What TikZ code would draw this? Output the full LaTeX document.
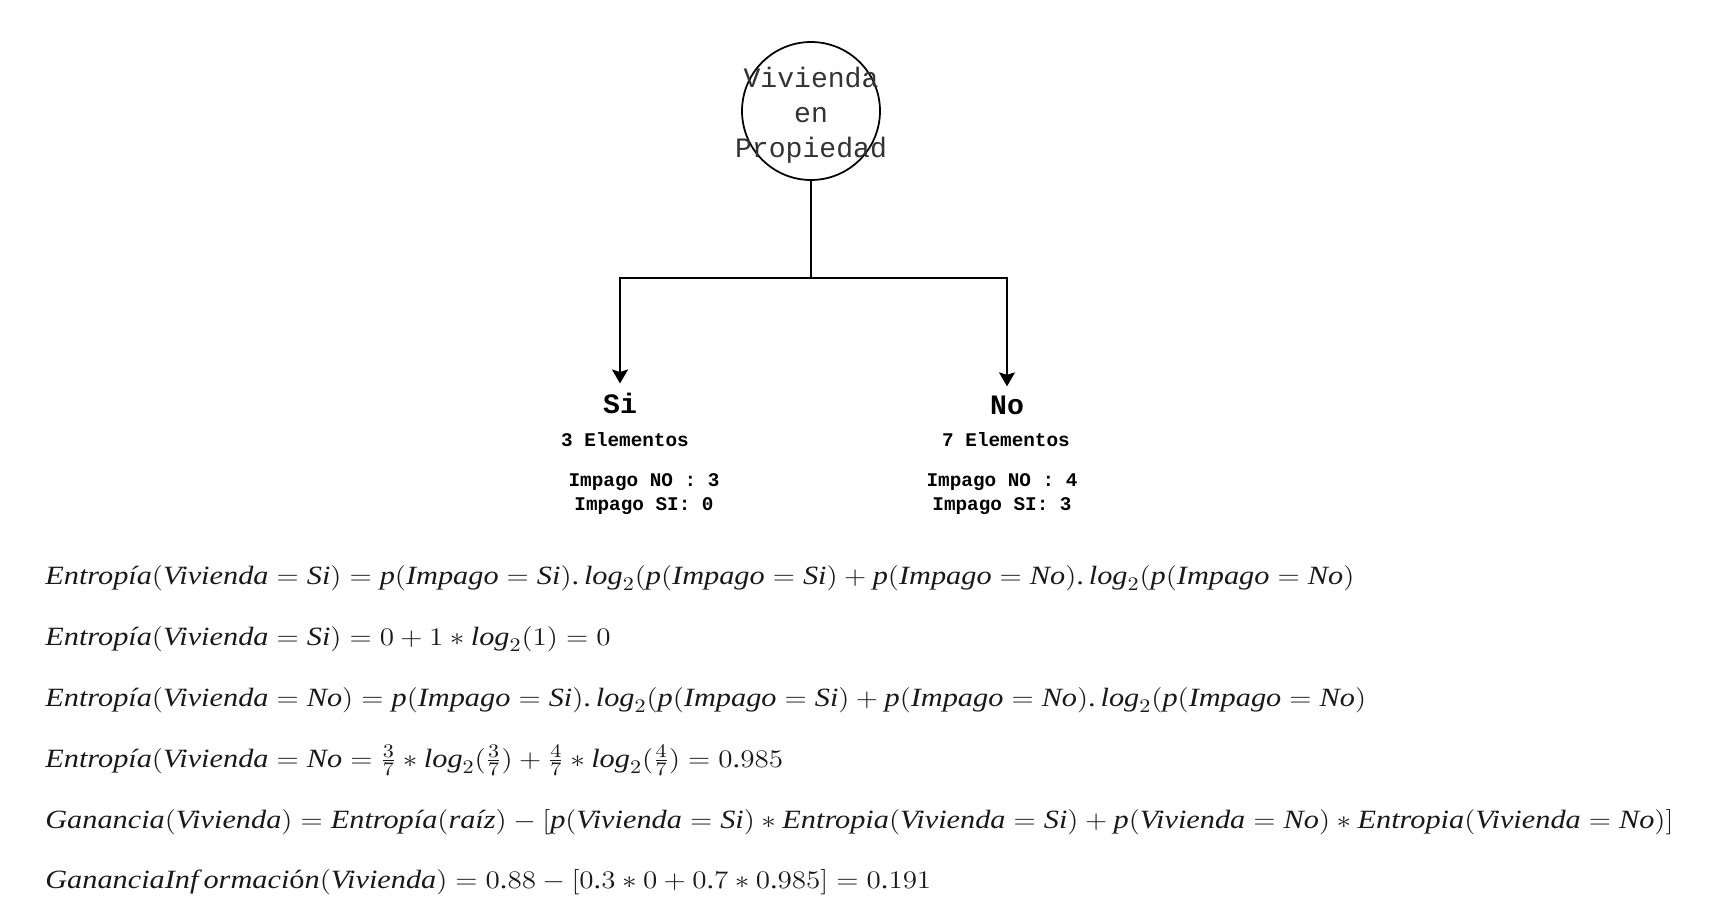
\documentclass[tikz,border=0pt]{standalone}
\usepackage{fontspec}
\usepackage{graphicx}
\setmainfont{Liberation Serif}
\setmonofont{Liberation Mono}
\newfontfamily\eqserif{Liberation Serif}[NFSSFamily=eqserif]
\DeclareSymbolFont{eqdigits}{TU}{eqserif}{m}{n}
\DeclareMathSymbol{0}{\mathalpha}{eqdigits}{"30}
\DeclareMathSymbol{1}{\mathalpha}{eqdigits}{"31}
\DeclareMathSymbol{2}{\mathalpha}{eqdigits}{"32}
\DeclareMathSymbol{3}{\mathalpha}{eqdigits}{"33}
\DeclareMathSymbol{4}{\mathalpha}{eqdigits}{"34}
\DeclareMathSymbol{5}{\mathalpha}{eqdigits}{"35}
\DeclareMathSymbol{6}{\mathalpha}{eqdigits}{"36}
\DeclareMathSymbol{7}{\mathalpha}{eqdigits}{"37}
\DeclareMathSymbol{8}{\mathalpha}{eqdigits}{"38}
\DeclareMathSymbol{9}{\mathalpha}{eqdigits}{"39}
\DeclareMathSymbol{.}{\mathord}{eqdigits}{"2E}
\DeclareMathSymbol{(}{\mathopen}{eqdigits}{"28}
\DeclareMathSymbol{)}{\mathclose}{eqdigits}{"29}
\DeclareMathSymbol{[}{\mathopen}{eqdigits}{"5B}
\DeclareMathSymbol{]}{\mathclose}{eqdigits}{"5D}
\DeclareMathSymbol{+}{\mathbin}{eqdigits}{"2B}
\DeclareMathSymbol{=}{\mathrel}{eqdigits}{"3D}
\usetikzlibrary{arrows.meta}
\newcommand{\ti}[1]{\textit{#1}}
\newcommand{\eqline}[1]{\scalebox{1.15}[1]{$#1$}}

\tikzset{
  attr/.style={circle,draw,line width=1pt,minimum size=2.76cm,inner sep=0pt},
  attrtext/.style={font=\ttfamily\fontsize{16}{20}\selectfont,text=black!80,align=center},
  branch/.style={font=\ttfamily\bfseries\fontsize{16}{18}\selectfont,inner sep=5pt,anchor=base},
  count/.style={font=\ttfamily\bfseries\fontsize{11}{13.6}\selectfont,anchor=base,align=center},
  eq/.style={font=\fontsize{15}{18}\selectfont,anchor=base west,inner sep=0pt,text=black!90},
  edge/.style={line width=1pt},
  arrow/.style={edge,-{Stealth[length=0.28cm,width=0.32cm,inset=0.05cm]}}
}

\begin{document}
\begin{tikzpicture}[x=0.02cm,y=-0.02cm]
  \useasboundingbox (0,0) rectangle (1720,902);
  % arbol
  \node[attr] (root) at (811,111) {};
  \node[attrtext] (rootlabel) at (811,115) {Vivienda\\en\\Propiedad};
  \coordinate (split) at (811,278);
  \node[branch] (si) at (620,413) {Si};
  \node[branch] (no) at (1007,414) {No};
  \node[count] (sicount) at (625,446) {3 Elementos};
  \node[count] (nocount) at (1006,446) {7 Elementos};
  \node[count] (siimpago) at (644,510) {Impago NO : 3\\Impago SI: 0};
  \node[count] (noimpago) at (1002,510) {Impago NO : 4\\Impago SI: 3};
  \draw[edge] (root) -- (split);
  \draw[arrow] (split) -| (si);
  \draw[arrow] (split) -| (no);
  % ecuaciones
  \node[eq] (eqa) at (45,584) {\eqline{\ti{Entropía}(\ti{Vivienda}=\ti{Si})=\ti{p}(\ti{Impago}=\ti{Si}).\,\ti{log}_2(\ti{p}(\ti{Impago}=\ti{Si})+\ti{p}(\ti{Impago}=\ti{No}).\,\ti{log}_2(\ti{p}(\ti{Impago}=\ti{No})}};
  \node[eq] (eqb) at (45,645) {\eqline{\ti{Entropía}(\ti{Vivienda}=\ti{Si})=0+1\ast\ti{log}_2(1)=0}};
  \node[eq] (eqc) at (45,706) {\eqline{\ti{Entropía}(\ti{Vivienda}=\ti{No})=\ti{p}(\ti{Impago}=\ti{Si}).\,\ti{log}_2(\ti{p}(\ti{Impago}=\ti{Si})+\ti{p}(\ti{Impago}=\ti{No}).\,\ti{log}_2(\ti{p}(\ti{Impago}=\ti{No})}};
  \node[eq] (eqd) at (45,767) {\eqline{\ti{Entropía}(\ti{Vivienda}=\ti{No}=\frac{3}{7}\ast\ti{log}_2(\frac{3}{7})+\frac{4}{7}\ast\ti{log}_2(\frac{4}{7})=0.985}};
  \node[eq] (eqe) at (45,828) {\eqline{\ti{Ganancia}(\ti{Vivienda})=\ti{Entropía}(\ti{raíz})-[\ti{p}(\ti{Vivienda}=\ti{Si})\ast\ti{Entropia}(\ti{Vivienda}=\ti{Si})+\ti{p}(\ti{Vivienda}=\ti{No})\ast\ti{Entropia}(\ti{Vivienda}=\ti{No})]}};
  \node[eq] (eqf) at (45,888) {\eqline{\ti{GananciaInf\,ormaci}\textup{ó}\ti{n}(\ti{Vivienda})=0.88-[0.3\ast0+0.7\ast0.985]=0.191}};
\end{tikzpicture}
\end{document}
